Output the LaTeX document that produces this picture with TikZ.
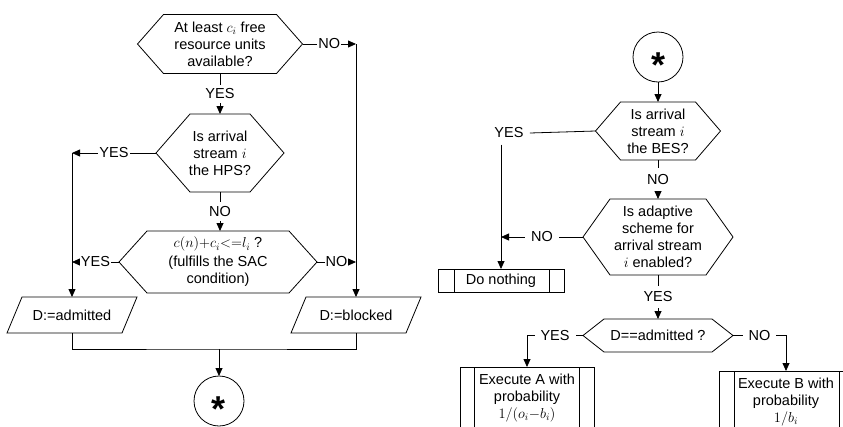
\documentclass[tikz,border=0pt]{standalone}
\usepackage{amsmath}
\usepackage{fontspec}
\setmainfont{Liberation Sans}
\usetikzlibrary{shapes.geometric, arrows.meta, positioning}

\newcommand\joinstar{{\fontsize{36}{36}\selectfont\bfseries\raisebox{-0.58em}[0pt][0pt]{*}}}

\begin{document}
\begin{tikzpicture}[
    x=1pt, y=-1pt,
    line width=0.8pt,
    font=\fontsize{14.5}{17}\selectfont,
    hexa/.style = {align=center, inner sep=0pt, outer sep=0pt},
    para/.style = {align=center, minimum width=130, minimum height=36, inner sep=0pt, outer sep=0pt},
    proc/.style = {rectangle, draw, align=center, inner sep=0pt, outer sep=0pt},
    joint/.style = {circle, draw, minimum size=50, inner sep=0pt, outer sep=0pt},
    lbl/.style = {fill=white, inner xsep=1pt, inner ysep=4pt},
    lblw/.style = {fill=white, inner sep=6pt},
    arrow/.style = {-{Triangle[length=8pt, width=7pt]}}
]
    \useasboundingbox (0,0) rectangle (843,426);
    \clip (0,0) rectangle (843,426);

    % Left chart
    \node (avail) [hexa, minimum width=165, minimum height=59] at (220,44) {At least $c_i$ free\\resource units\\available?};
    \node (hps) [hexa, minimum width=128, minimum height=78] at (220,153) {Is arrival\\stream $i$\\the HPS?};
    \node (sac) [hexa, minimum width=198, minimum height=62] at (218,262) {$c(n){+}c_i{<}{=}l_i$ ?\\[2pt](fulfills the SAC\\condition)};
    \node (admitted) [para] at (72,315) {D:=admitted};
    \node (blocked) [para] at (356,315) {D:=blocked};
    \node (star1) [joint] at (219,401) {\joinstar};
    \coordinate (merge) at (219,349);

    % Right chart
    \node (star2) [joint] at (658,57) {\joinstar};
    \node (bes) [hexa, minimum width=125, minimum height=58] at (658,131) {Is arrival\\stream $i$\\the BES?};
    \node (adapt) [hexa, minimum width=150, minimum height=76] at (658,237) {Is adaptive\\scheme for\\arrival stream\\$i$ enabled?};
    \node (dadm) [hexa, minimum width=150, minimum height=33] at (658,335.5) {D==admitted ?};
    \node (nothing) [proc, minimum width=126, minimum height=23] at (501,280.5) {Do nothing};
    \node (execA) [proc, minimum width=134, minimum height=62] at (527,398) {Execute A with\\probability\\$1/(o_i{-}b_i)$};
    \node (execB) [proc, minimum width=134, minimum height=62] at (786,402) {Execute B with\\probability\\$1/b_i$};
    \node (yesb) [lblw] at (509,133) {YES};

    % Hexagon outlines
    \foreach \n/\c in {avail/26, hps/34, sac/28, bes/25, adapt/27, dadm/21}
        \draw (\n.west) -- ([xshift=\c]\n.north west) -- ([xshift=-\c]\n.north east) -- (\n.east)
              -- ([xshift=-\c]\n.south east) -- ([xshift=\c]\n.south west) -- cycle;

    % Parallelogram outlines
    \foreach \n in {admitted, blocked}
        \draw (\n.south west) -- ([xshift=15]\n.north west) -- (\n.north east) -- ([xshift=-15]\n.south east) -- cycle;

    % Side bars of the process boxes
    \foreach \n/\a/\b in {nothing/16/15, execA/14/15, execB/15/14}
        \draw ([xshift=\a]\n.north west) -- ([xshift=\a]\n.south west)
              ([xshift=-\b]\n.north east) -- ([xshift=-\b]\n.south east);

    % Arrows, left
    \draw [arrow] (avail) -- node[lbl] {YES} (hps);
    \draw [arrow] (hps) -- node[lbl] {NO} (hps.south |- sac.north);
    \draw [arrow] (avail.east) -- node[lbl] {NO} (avail.east -| blocked.north);
    \draw [arrow] (avail.east -| blocked.north) -- (blocked.north);
    \draw [arrow] (hps.west) -- node[lbl] {YES} (hps.west -| admitted.north);
    \draw [arrow] (hps.west -| admitted.north) -- (admitted.north);
    \draw [arrow] (sac.west) -- node[lbl] {YES} (sac.west -| admitted.north);
    \draw [arrow] (sac.east) -- node[lbl] {NO} (sac.east -| blocked.north);
    \draw (admitted.south) |- (merge) -| (blocked.south);
    \draw [arrow] (merge) -- (star1);

    % Arrows, right
    \draw [arrow] (star2) -- (bes);
    \draw (bes.west) -- (yesb.east);
    \draw [arrow] (yesb.south -| nothing.north) -- (nothing.north);
    \draw [arrow] (bes) -- node[lblw] {NO} (adapt);
    \draw [arrow] (adapt.west) -- node[lblw] {NO} (adapt.west -| nothing.north);
    \draw [arrow] (adapt) -- node[lblw] {YES} (dadm);
    \draw [arrow] (dadm.west) -- node[lblw] {YES} (dadm.west -| execA.north) -- (execA.north);
    \draw [arrow] (dadm.east) -- node[lblw] {NO} (dadm.east -| execB.north) -- (execB.north);

\end{tikzpicture}
\end{document}
